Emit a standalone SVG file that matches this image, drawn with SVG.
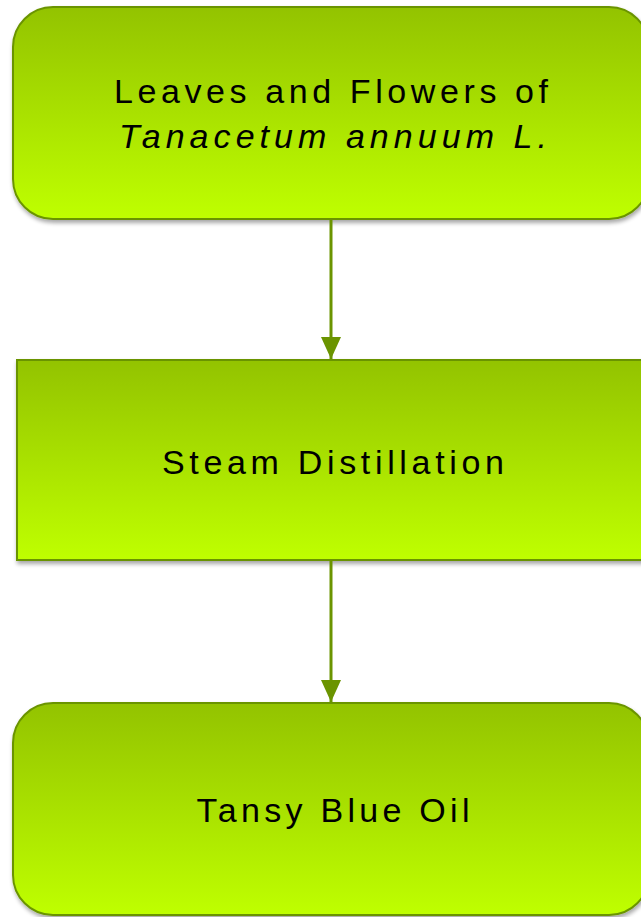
<svg xmlns="http://www.w3.org/2000/svg" width="641" height="917" viewBox="0 0 641 917">
<defs>
<linearGradient id="g" x1="0" y1="0" x2="0" y2="1">
<stop offset="0" stop-color="#93c300"/>
<stop offset="1" stop-color="#bfff00"/>
</linearGradient>
<filter id="sh" x="-5%" y="-5%" width="110%" height="115%">
<feGaussianBlur in="SourceAlpha" stdDeviation="2"/>
<feOffset dx="1" dy="3"/>
<feComponentTransfer><feFuncA type="linear" slope="0.35"/></feComponentTransfer>
<feMerge><feMergeNode/><feMergeNode in="SourceGraphic"/></feMerge>
</filter>
<marker id="ah" viewBox="0 0 22 20" refX="22" refY="10" markerWidth="22" markerHeight="20" markerUnits="userSpaceOnUse" orient="auto">
<path d="M0,0 L22,10 L0,20 Z" fill="#6b9400"/>
</marker>
</defs>
<style>
.box{fill:url(#g);stroke:#6b9400;stroke-width:2;filter:url(#sh)}
.t{font-family:"Liberation Sans",Arial,sans-serif;font-size:34px;fill:#000;text-anchor:middle}
.c{stroke:#6b9400;stroke-width:3;fill:none}
</style>
<g id="n1">
<rect class="box" x="13" y="7" width="636" height="212" rx="40" ry="40"/>
<text class="t" x="331" y="103" textLength="434" lengthAdjust="spacing">Leaves and Flowers of</text>
<text class="t" x="333" y="148" font-style="italic" textLength="428" lengthAdjust="spacing">Tanacetum annuum L.</text>
</g>
<g id="n2">
<rect class="box" x="17" y="360" width="628" height="200"/>
<text class="t" x="333" y="474" textLength="342" lengthAdjust="spacing">Steam Distillation</text>
</g>
<g id="n3">
<rect class="box" x="13" y="703" width="636" height="212" rx="40" ry="40"/>
<text class="t" x="333" y="822" textLength="273" lengthAdjust="spacing">Tansy Blue Oil</text>
</g>
<g id="connectors">
<line class="c" x1="331" y1="219" x2="331" y2="359" marker-end="url(#ah)"/>
<line class="c" x1="331" y1="560" x2="331" y2="702" marker-end="url(#ah)"/>
</g>
</svg>
